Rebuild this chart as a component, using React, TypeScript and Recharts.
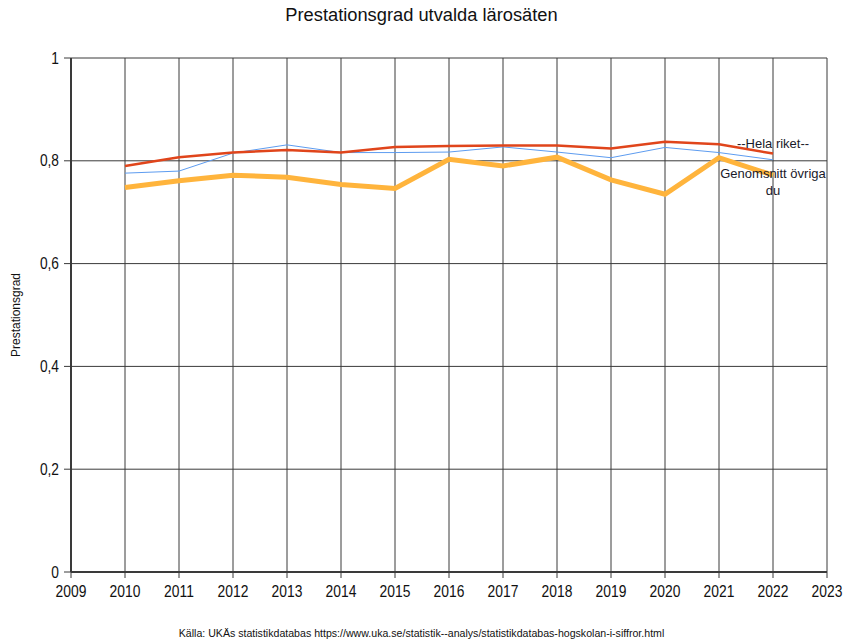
import { CartesianGrid, LabelList, Line, LineChart, XAxis, YAxis } from "recharts";

const years = [2010, 2011, 2012, 2013, 2014, 2015, 2016, 2017, 2018, 2019, 2020, 2021, 2022];
const helaRiket = [0.79, 0.807, 0.816, 0.821, 0.816, 0.827, 0.829, 0.83, 0.83, 0.824, 0.837, 0.832, 0.814];
const larosate = [0.776, 0.78, 0.815, 0.831, 0.816, 0.816, 0.817, 0.827, 0.817, 0.806, 0.826, 0.816, 0.802];
const genomsnittOvriga = [0.748, 0.761, 0.772, 0.768, 0.754, 0.746, 0.803, 0.79, 0.807, 0.763, 0.735, 0.806, 0.772];

const xTicks = [2009, 2010, 2011, 2012, 2013, 2014, 2015, 2016, 2017, 2018, 2019, 2020, 2021, 2022, 2023];
const yTicks = [0, 0.2, 0.4, 0.6, 0.8, 1];

const FONT = "'Liberation Sans', Arial, sans-serif";

const rows = years.map((year, i) => ({
  year,
  hela: helaRiket[i],
  laro: larosate[i],
  snitt: genomsnittOvriga[i],
}));

const fmtY = (v: number) => (v === 0 || v === 1 ? String(v) : v.toFixed(1).replace(".", ","));

// smal axeltext: vanlig font, hopträngd i sidled
function XTick({ x, y, payload }: any) {
  return (
    <text transform={`translate(${x},${y}) scale(0.84,1)`} textAnchor="middle" dy="0.71em" fontSize={16.5} fontFamily={FONT} fill="#111">
      {payload.value}
    </text>
  );
}

function YTick({ x, y, payload }: any) {
  return (
    <text transform={`translate(${x},${y}) scale(0.86,1)`} textAnchor="end" dy="0.355em" fontSize={16} fontFamily={FONT} fill="#111">
      {fmtY(payload.value)}
    </text>
  );
}

// etikett bara vid sista punkten
function endLabel(lines: string[], dy: number) {
  return (props: any) => {
    if (props.index !== years.length - 1) return null;
    return (
      <text x={props.x} y={props.y + dy} textAnchor="middle" fontFamily={FONT} fontSize={13} fill="#1a1a2a">
        {lines.map((l, i) => (
          <tspan key={i} x={props.x} dy={i === 0 ? 0 : 17}>
            {l}
          </tspan>
        ))}
      </text>
    );
  };
}

export default function App() {
  return (
    <div style={{ position: "absolute", left: 0, top: 0, width: 843, height: 641, background: "#fff", fontFamily: FONT }}>
      <div style={{ position: "absolute", left: 0, top: 4, width: 843, textAlign: "center", fontSize: 18.3, color: "#111" }}>
        Prestationsgrad utvalda lärosäten
      </div>
      <div
        style={{
          position: "absolute",
          left: 16,
          top: 315,
          fontSize: 12,
          color: "#111",
          transform: "translate(-50%, -50%) rotate(-90deg)",
          whiteSpace: "nowrap",
        }}
      >
        Prestationsgrad
      </div>
      <LineChart width={843} height={641} data={rows} margin={{ top: 58, right: 16, bottom: 0, left: 8 }}>
        <CartesianGrid stroke="#3a3a3a" strokeWidth={1} />
        <XAxis
          dataKey="year"
          type="number"
          domain={[2009, 2023]}
          ticks={xTicks}
          interval={0}
          axisLine={{ stroke: "#3a3a3a", strokeWidth: 2 }}
          tickLine={{ stroke: "#3a3a3a" }}
          tickSize={6}
          tickMargin={7}
          height={69}
          tick={<XTick />}
        />
        <YAxis
          type="number"
          domain={[0, 1]}
          ticks={yTicks}
          interval={0}
          width={63}
          axisLine={{ stroke: "#3a3a3a", strokeWidth: 2 }}
          tickLine={{ stroke: "#3a3a3a" }}
          tickSize={7}
          tickMargin={5}
          tick={<YTick />}
        />
        <Line dataKey="laro" stroke="#5d9cf0" strokeWidth={1} dot={false} isAnimationActive={false} />
        <Line dataKey="hela" stroke="#e0451b" strokeWidth={2.5} dot={false} isAnimationActive={false}>
          <LabelList dataKey="hela" content={endLabel(["--Hela riket--"], -6)} />
        </Line>
        <Line dataKey="snitt" stroke="#ffb43c" strokeWidth={5} dot={false} isAnimationActive={false}>
          <LabelList dataKey="snitt" content={endLabel(["Genomsnitt övriga", "du"], 3)} />
        </Line>
      </LineChart>
      <div style={{ position: "absolute", left: 0, top: 627, width: 843, textAlign: "center", fontSize: 10.6, color: "#111" }}>
        Källa: UKÄs statistikdatabas https://www.uka.se/statistik--analys/statistikdatabas-hogskolan-i-siffror.html
      </div>
    </div>
  );
}
